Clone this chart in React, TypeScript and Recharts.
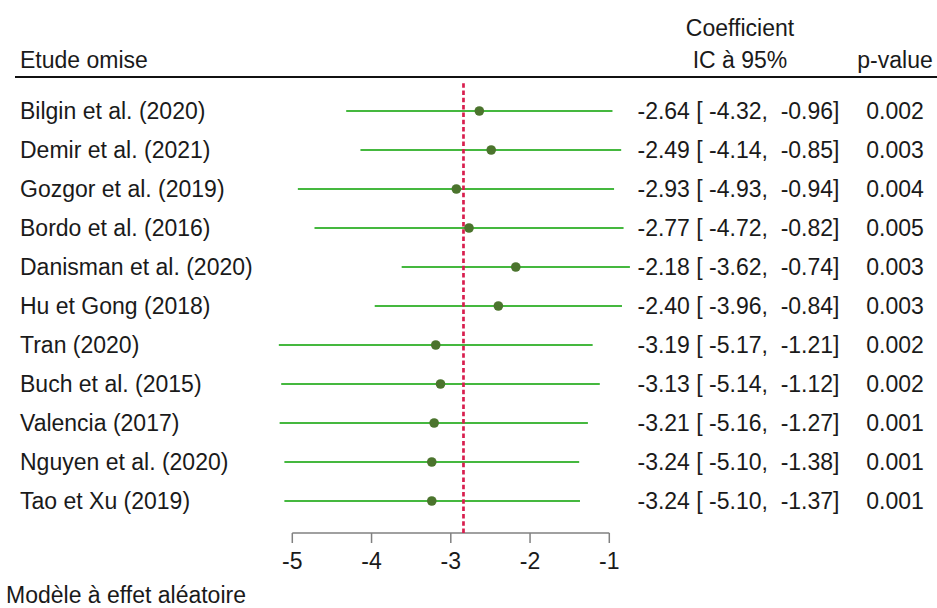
import React from "react";
import {
  ComposedChart,
  Scatter,
  ErrorBar,
  XAxis,
  YAxis,
  ReferenceLine,
  Customized,
} from "recharts";

// leave-one-out sensitivity analysis, one row per omitted study
const studies = [
  "Bilgin et al. (2020)",
  "Demir et al. (2021)",
  "Gozgor et al. (2019)",
  "Bordo et al. (2016)",
  "Danisman et al. (2020)",
  "Hu et Gong (2018)",
  "Tran (2020)",
  "Buch et al. (2015)",
  "Valencia (2017)",
  "Nguyen et al. (2020)",
  "Tao et Xu (2019)",
];
const coefs = [-2.64, -2.49, -2.93, -2.77, -2.18, -2.4, -3.19, -3.13, -3.21, -3.24, -3.24];
const lowers = [-4.32, -4.14, -4.93, -4.72, -3.62, -3.96, -5.17, -5.14, -5.16, -5.1, -5.1];
const uppers = [-0.96, -0.85, -0.94, -0.82, -0.74, -0.84, -1.21, -1.12, -1.27, -1.38, -1.37];
const pValues = ["0.002", "0.003", "0.004", "0.005", "0.003", "0.003", "0.002", "0.002", "0.001", "0.001", "0.001"];
const pooledEstimate = -2.84;
const xTicks = [-5, -4, -3, -2, -1];

const FONT = "'Liberation Sans', Arial, sans-serif";
const TEXT = "#1a1a1a";
const FS = 23;

const rows = studies.map((study, i) => ({
  study,
  row: i + 1,
  coef: coefs[i],
  err: [coefs[i] - lowers[i], uppers[i] - coefs[i]],
}));
const rowTicks = rows.map((r) => r.row);

// y range keeps the dashed line from just under the header rule down to the axis
const Y_DOMAIN: [number, number] = [0.2564, 11.8205];

const RowTick = (props: any) => {
  const { y, payload } = props;
  const i = payload.value - 1;
  if (i < 0 || i >= studies.length) return null;
  const ci = `${coefs[i].toFixed(2)} [ ${lowers[i].toFixed(2)},  ${uppers[i].toFixed(2)}]`;
  return (
    <g fontFamily={FONT} fontSize={FS} fill={TEXT}>
      <text x={20} y={y + 8} textAnchor="start">
        {studies[i]}
      </text>
      <text x={738.5} y={y + 8} textAnchor="middle" style={{ whiteSpace: "pre" }}>
        {ci}
      </text>
      <text x={895} y={y + 8} textAnchor="middle">
        {pValues[i]}
      </text>
    </g>
  );
};

const AxisTick = (props: any) => {
  const { x, payload } = props;
  return (
    <text x={x} y={569} textAnchor="middle" fontFamily={FONT} fontSize={FS} fill={TEXT}>
      {payload.value}
    </text>
  );
};

const Header = () => (
  <g fontFamily={FONT} fontSize={FS} fill={TEXT}>
    <text x={20} y={68}>Etude omise</text>
    <text x={740} y={36} textAnchor="middle">Coefficient</text>
    <text x={740} y={68} textAnchor="middle">IC à 95%</text>
    <text x={895} y={68} textAnchor="middle">p-value</text>
    <line x1={15} x2={937} y1={77} y2={77} stroke="#111" strokeWidth={2.2} />
    <text x={6} y={603}>Modèle à effet aléatoire</text>
  </g>
);

const Dot = (props: any) => (
  <circle cx={props.cx} cy={props.cy} r={4.8} fill="#4b742d" />
);

export default function App() {
  return (
    <div style={{ position: "fixed", left: 0, top: 0, background: "#fff" }}>
      <ComposedChart
        width={937}
        height={608}
        data={rows}
        margin={{ top: 82, right: 288.075, bottom: 35, left: 0 }}
      >
        <XAxis
          type="number"
          dataKey="coef"
          domain={[-5.5, -0.5]}
          allowDataOverflow
          ticks={xTicks}
          axisLine={false}
          tickSize={10}
          tickLine={{ stroke: "#808080", strokeWidth: 1.5 }}
          tick={<AxisTick />}
          height={40}
        />
        <YAxis
          type="number"
          dataKey="row"
          domain={Y_DOMAIN}
          reversed
          allowDataOverflow
          ticks={rowTicks}
          interval={0}
          axisLine={false}
          tickLine={false}
          tick={<RowTick />}
          width={252.675}
        />
        <ReferenceLine
          segment={[
            { x: -5, y: Y_DOMAIN[1] },
            { x: -1, y: Y_DOMAIN[1] },
          ]}
          stroke="#808080"
          strokeWidth={1.5}
          ifOverflow="visible"
        />
        <Scatter dataKey="coef" shape={<Dot />} isAnimationActive={false}>
          <ErrorBar
            dataKey="err"
            direction="x"
            width={0}
            stroke="#45b83f"
            strokeWidth={2}
            isAnimationActive={false}
          />
        </Scatter>
        <ReferenceLine
          x={pooledEstimate}
          stroke="#d81e4e"
          strokeWidth={2.7}
          strokeDasharray="4.5 2.8"
        />
        <Customized component={Header} />
      </ComposedChart>
    </div>
  );
}
